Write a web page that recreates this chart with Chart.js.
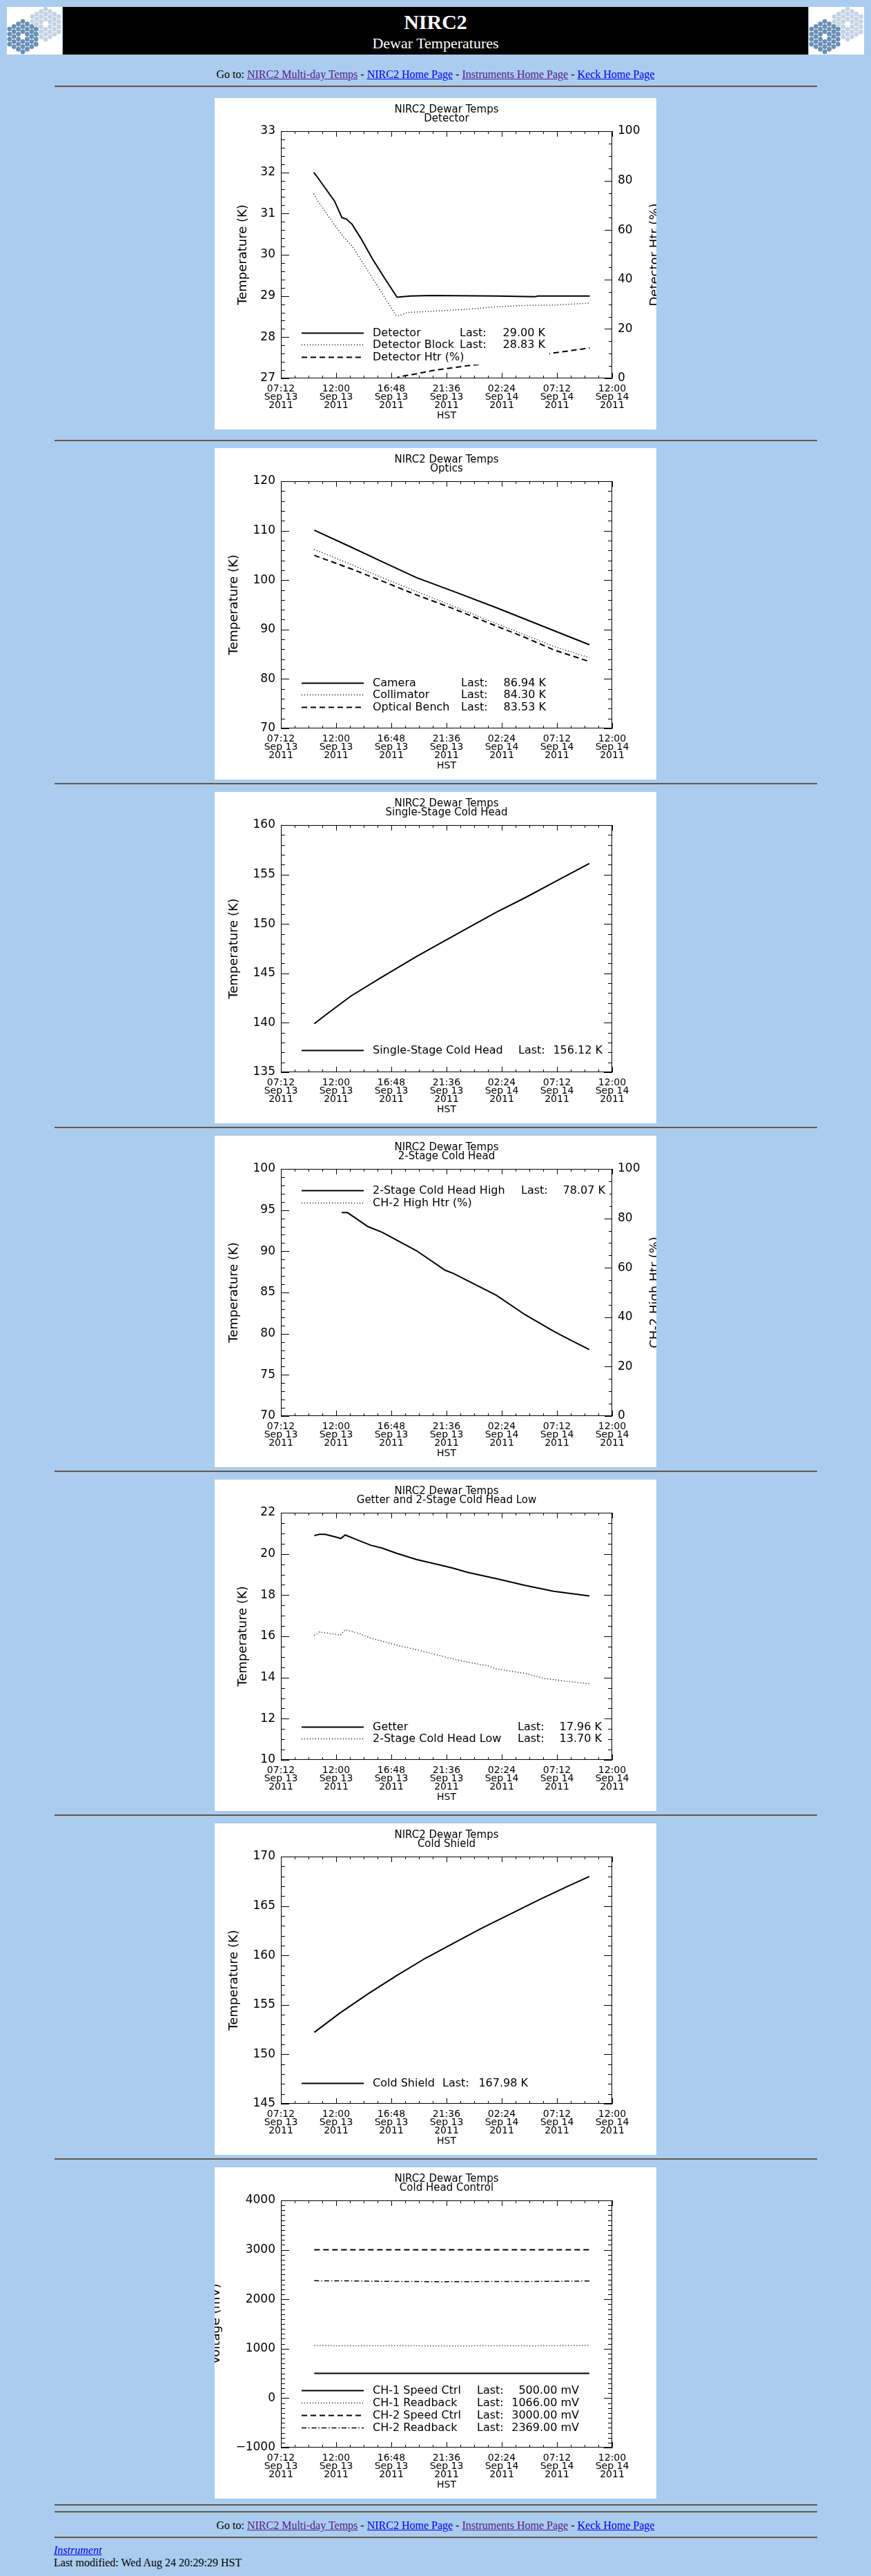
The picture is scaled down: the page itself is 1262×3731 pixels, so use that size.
<!DOCTYPE html>
<html lang="en">
<head>
<meta charset="UTF-8">
<title>NIRC2 Dewar Temperatures</title>
<script src="https://cdn.jsdelivr.net/npm/chart.js"></script>
<style>
  body { margin: 10px; background: #aaccee; font-family: "Liberation Serif", "Times New Roman", serif; font-size: 16px; color: #000; }
  #banner { display: flex; height: 69px; }
  #banner canvas { display: block; }
  #banner .black { background: #000; width: 1080px; margin: 0 1px; position: relative; color: #fff; text-align: center; }
  #banner .t1 { position: absolute; left: 0; right: 0; top: 5px; font-size: 30px; font-weight: bold; line-height: 34px; }
  #banner .t2 { position: absolute; left: 0; right: 0; top: 40px; font-size: 22px; line-height: 26px; }
  .goto { text-align: center; line-height: 20px; }
  a { color: #0000ee; }
  a.v { color: #551a8b; }
  hr { width: 1105px; height: 0; border: 0; border-top: 2px solid #5a5a5a; border-bottom: 1px solid #c4c4c4; margin: 0 auto; }
  .panel { width: 640px; height: 480px; margin: 0 auto; background: #fff; }
  .panel canvas { display: block; }
  .foot { margin-left: 68px; line-height: 18px; }
</style>
</head>
<body>
<div id="banner">
  <canvas class="logo" width="80" height="69"></canvas>
  <div class="black"><div class="t1">NIRC2</div><div class="t2">Dewar Temperatures</div></div>
  <canvas class="logo" width="80" height="69"></canvas>
</div>
<div class="goto" style="margin-top:19px">Go to: <a class="v" href="#">NIRC2 Multi-day Temps</a> - <a href="#">NIRC2 Home Page</a> - <a class="v" href="#">Instruments Home Page</a> - <a href="#">Keck Home Page</a></div>
<hr style="margin-top:6px">
<div class="panel" style="margin-top:15px"><canvas id="c1" width="640" height="480"></canvas></div>
<hr style="margin-top:15px">
<div class="panel" style="margin-top:9px"><canvas id="c2" width="640" height="480"></canvas></div>
<hr style="margin-top:5px">
<div class="panel" style="margin-top:10px"><canvas id="c3" width="640" height="480"></canvas></div>
<hr style="margin-top:5px">
<div class="panel" style="margin-top:10px"><canvas id="c4" width="640" height="480"></canvas></div>
<hr style="margin-top:5px">
<div class="panel" style="margin-top:10px"><canvas id="c5" width="640" height="480"></canvas></div>
<hr style="margin-top:5px">
<div class="panel" style="margin-top:10px"><canvas id="c6" width="640" height="480"></canvas></div>
<hr style="margin-top:5px">
<div class="panel" style="margin-top:10px"><canvas id="c7" width="640" height="480"></canvas></div>
<hr style="margin-top:8px">
<hr style="margin-top:7px">
<div class="goto" style="margin-top:8px">Go to: <a class="v" href="#">NIRC2 Multi-day Temps</a> - <a href="#">NIRC2 Home Page</a> - <a class="v" href="#">Instruments Home Page</a> - <a href="#">Keck Home Page</a></div>
<hr style="margin-top:6px">
<div class="foot" style="margin-top:8px"><a href="#"><i>Instrument</i></a><br>Last modified: Wed Aug 24 20:29:29 HST</div>

<script>
// time axis: hours after 07:12 HST Sep 13 2011
const xTickLabels = [
  ['07:12', 'Sep 13', '2011'], ['12:00', 'Sep 13', '2011'], ['16:48', 'Sep 13', '2011'],
  ['21:36', 'Sep 13', '2011'], ['02:24', 'Sep 14', '2011'], ['07:12', 'Sep 14', '2011'],
  ['12:00', 'Sep 14', '2011']
];
const xTickHours = [0, 4.8, 9.6, 14.4, 19.2, 24, 28.8];

// Detector
const detHrs = [2.85, 3.16, 4.67, 5.31, 5.68, 6.19, 6.95, 7.96, 8.97, 10.1, 11.24, 13.0, 18.82, 22.05, 22.36, 26.85];
const detTemp = [32.0, 31.89, 31.3, 30.9, 30.87, 30.74, 30.4, 29.9, 29.45, 28.97, 29.0, 29.01, 29.0, 28.98, 29.0, 29.0];
const blockHrs = [2.85, 3.16, 4.67, 5.43, 6.19, 7.2, 8.72, 9.98, 10.23, 10.99, 13.26, 16.29, 18.82, 21.35, 23.87, 26.85];
const blockTemp = [31.48, 31.33, 30.72, 30.44, 30.21, 29.77, 29.1, 28.54, 28.52, 28.6, 28.63, 28.68, 28.74, 28.77, 28.78, 28.83];
const htrHrs = [2.85, 10.1, 10.23, 11.75, 13.26, 16.04, 18.82, 21.35, 23.49, 25.14, 26.85];
const htrPct = [0, 0, 0.6, 1.8, 3.2, 5.0, 6.5, 8.0, 10.1, 11.2, 12.3];
const detTicks = [27, 28, 29, 30, 31, 32, 33];
const detTickLabels = ['27', '28', '29', '30', '31', '32', '33'];

const pctTicks = [0, 20, 40, 60, 80, 100];
const pctTickLabels = ['0', '20', '40', '60', '80', '100'];

// Optics
const optHrs = [2.9, 6.08, 8.81, 11.79, 15.02, 18.74, 21.23, 23.71, 26.81];
const cameraTemp = [110.1, 106.7, 103.7, 100.5, 97.7, 94.4, 92.1, 89.8, 86.94];
const collimatorTemp = [106.2, 103.2, 100.5, 97.7, 94.7, 91.2, 88.9, 86.6, 84.30];
const benchTemp = [105.0, 102.3, 99.8, 97.0, 94.2, 90.7, 88.4, 85.9, 83.53];
const optTicks = [70, 80, 90, 100, 110, 120];
const optTickLabels = ['70', '80', '90', '100', '110', '120'];

// Single-stage cold head
const ssHrs = [2.9, 3.85, 6.08, 8.81, 11.79, 15.02, 18.74, 21.23, 23.71, 26.81];
const ssTemp = [139.9, 140.76, 142.7, 144.65, 146.7, 148.8, 151.2, 152.65, 154.2, 156.12];
const ssTicks = [135, 140, 145, 150, 155, 160];
const ssTickLabels = ['135', '140', '145', '150', '155', '160'];

// 2-stage cold head
const tsHrs = [5.29, 5.79, 7.57, 8.81, 11.79, 14.28, 15.02, 18.74, 21.23, 23.71, 25.2, 26.81];
const tsTemp = [94.69, 94.69, 93.0, 92.3, 90.07, 87.7, 87.3, 84.65, 82.3, 80.3, 79.2, 78.07];
const ch2HtrHrs = [2.9, 26.81];
const ch2HtrPct = [0, 0];
const tsTicks = [70, 75, 80, 85, 90, 95, 100];
const tsTickLabels = ['70', '75', '80', '85', '90', '95', '100'];

// Getter and 2-stage cold head low
const getHrs = [2.9, 3.35, 3.85, 4.84, 5.21, 5.59, 6.83, 7.82, 8.81, 10.06, 11.79, 13.78, 15.02, 16.26, 18.74, 21.23, 23.71, 25.2, 26.81];
const getterTemp = [20.89, 20.95, 20.95, 20.81, 20.75, 20.92, 20.64, 20.42, 20.28, 20.03, 19.73, 19.47, 19.3, 19.1, 18.8, 18.47, 18.19, 18.08, 17.96];
const lowHrs = [2.9, 3.35, 4.84, 5.14, 5.59, 6.83, 7.82, 8.81, 10.06, 11.79, 13.78, 15.02, 16.26, 17.99, 18.74, 21.23, 22.97, 25.2, 26.81];
const lowTemp = [16.05, 16.21, 16.09, 16.05, 16.32, 16.13, 15.91, 15.76, 15.57, 15.35, 15.07, 14.9, 14.74, 14.57, 14.42, 14.2, 13.95, 13.79, 13.70];
const getTicks = [10, 12, 14, 16, 18, 20, 22];
const getTickLabels = ['10', '12', '14', '16', '18', '20', '22'];

// Cold shield
const shieldHrs = [2.9, 5.09, 7.57, 10.06, 12.54, 15.02, 17.5, 19.99, 22.47, 24.96, 26.81];
const shieldTemp = [152.22, 154.14, 156.11, 157.96, 159.7, 161.25, 162.78, 164.21, 165.65, 167.0, 167.98];
const shieldTicks = [145, 150, 155, 160, 165, 170];
const shieldTickLabels = ['145', '150', '155', '160', '165', '170'];

// Cold head control
const ctrlHrs = [2.9, 26.81];
const ch1Speed = [500, 500];
const ch2Speed = [3000, 3000];
const rbHrs = [2.9, 6, 10, 14, 18, 22, 26.81];
const ch1Readback = [1066, 1058, 1062, 1055, 1060, 1058, 1066];
const ch2Readback = [2375, 2372, 2360, 2355, 2358, 2360, 2369];
const ctrlTicks = [-1000, 0, 1000, 2000, 3000, 4000];
const ctrlTickLabels = ['\u22121000', '0', '1000', '2000', '3000', '4000'];

const FONT = 'DejaVu Sans';
Chart.defaults.font.family = FONT;
Chart.defaults.color = '#000';

function pts(xs, ys) { return xs.map((x, i) => ({ x: x, y: ys[i] })); }

function labeler(values, labels) {
  return v => {
    const i = values.findIndex(t => Math.abs(t - v) < 1e-6);
    return i < 0 ? '' : labels[i];
  };
}

// box with inward ticks, as the IDL plots have
const idlFrame = {
  id: 'idlFrame',
  beforeDatasetsDraw(chart) {
    const { ctx, chartArea: a, scales } = chart;
    ctx.save();
    ctx.strokeStyle = '#000';
    ctx.lineWidth = 1;
    ctx.strokeRect(a.left + 0.5, a.top + 0.5, a.right - a.left - 1, a.bottom - a.top - 1);
    ctx.beginPath();
    scales.x.ticks.forEach(t => {
      const p = Math.round(scales.x.getPixelForValue(t.value)) + 0.5;
      const len = t.label && t.label.length ? 8 : 4;
      ctx.moveTo(p, a.bottom); ctx.lineTo(p, a.bottom - len);
      ctx.moveTo(p, a.top); ctx.lineTo(p, a.top + len);
    });
    const y = scales.y, y1 = scales.y1;
    y.ticks.forEach(t => {
      const p = Math.round(y.getPixelForValue(t.value)) + 0.5;
      const len = t.label ? 12 : 6;
      ctx.moveTo(a.left, p); ctx.lineTo(a.left + len, p);
      if (!y1) { ctx.moveTo(a.right, p); ctx.lineTo(a.right - len, p); }
    });
    if (y1) {
      y1.ticks.forEach(t => {
        const p = Math.round(y1.getPixelForValue(t.value)) + 0.5;
        const len = t.label ? 11 : 5;
        ctx.moveTo(a.right, p); ctx.lineTo(a.right - len, p);
      });
    }
    ctx.stroke();
    ctx.restore();
  }
};

// legend drawn inside the plot, over a blanked box
const idlLegend = {
  id: 'idlLegend',
  afterDatasetsDraw(chart, args, o) {
    const { ctx, chartArea: a } = chart;
    const sets = chart.data.datasets;
    const y0 = a.top + o.top;
    ctx.save();
    ctx.fillStyle = '#fff';
    ctx.fillRect(a.left + 26, y0 - 11, o.valueRight - 20, (sets.length - 1) * o.rowH + 22);
    ctx.font = '16px "' + FONT + '"';
    ctx.textBaseline = 'middle';
    sets.forEach((ds, i) => {
      const y = Math.round(y0 + i * o.rowH) + 0.5;
      ctx.strokeStyle = '#000';
      ctx.lineWidth = ds.borderWidth;
      ctx.setLineDash(ds.borderDash || []);
      ctx.beginPath(); ctx.moveTo(a.left + 30, y); ctx.lineTo(a.left + 120, y); ctx.stroke();
      ctx.setLineDash([]);
      ctx.fillStyle = '#000';
      ctx.textAlign = 'left';
      ctx.fillText(ds.label, a.left + 133, y);
      if (ds.last) {
        ctx.fillText('Last:', a.left + o.lastX, y);
        ctx.textAlign = 'right';
        ctx.fillText(ds.last, a.left + o.valueRight, y);
      }
    });
    ctx.restore();
  }
};

// right-hand axis title, reading upward and cut by the image edge
const sideTitle = {
  id: 'sideTitle',
  afterDraw(chart, args, o) {
    if (!o.text) return;
    const { ctx, chartArea: a } = chart;
    ctx.save();
    ctx.translate(o.x, (a.top + a.bottom) / 2);
    ctx.rotate(-Math.PI / 2);
    ctx.font = '18px "' + FONT + '"';
    ctx.textAlign = 'center';
    ctx.textBaseline = 'middle';
    ctx.fillStyle = '#000';
    ctx.fillText(o.text, 0, 0);
    ctx.restore();
  }
};

const SOLID = { borderWidth: 2, borderDash: [] };
const DOTTED = { borderWidth: 1.5, borderDash: [1, 3] };
const DASHED = { borderWidth: 2, borderDash: [8, 5] };
const DASHDOT = { borderWidth: 1.5, borderDash: [7, 3, 1.5, 3] };

function line(label, last, data, style, axis) {
  return Object.assign({
    label: label, last: last, data: data, yAxisID: axis || 'y',
    borderColor: '#000', pointRadius: 0, tension: 0, fill: false
  }, style);
}

function makeChart(id, sub, datasets, yAxis, y1Axis, legend, rightTitle) {
  const scales = {
    x: {
      type: 'linear', min: 0, max: 28.8,
      afterFit: s => { s.height = 74; },
      grid: { display: false, drawTicks: false },
      border: { display: false },
      ticks: {
        stepSize: 1.2, autoSkip: false, maxRotation: 0, padding: 9,
        font: { size: 14, lineHeight: '12px' },
        callback: labeler(xTickHours, xTickLabels)
      },
      title: { display: true, text: 'HST', font: { size: 14 }, padding: { top: 0, bottom: 11 } }
    },
    y: {
      position: 'left', min: yAxis.min, max: yAxis.max,
      afterFit: s => { s.width = 96; },
      grid: { display: false, drawTicks: false },
      border: { display: false },
      ticks: {
        stepSize: yAxis.step, autoSkip: false, padding: 8,
        font: { size: 17 },
        callback: labeler(yAxis.ticks, yAxis.labels)
      },
      title: { display: true, text: yAxis.title, font: { size: 18 }, padding: { top: yAxis.titlePad, bottom: 0 } }
    }
  };
  if (y1Axis) {
    scales.y1 = {
      position: 'right', min: 0, max: 100,
      afterFit: s => { s.width = 64; },
      grid: { display: false, drawTicks: false },
      border: { display: false },
      ticks: {
        stepSize: 5, autoSkip: false, padding: 8,
        font: { size: 17 },
        callback: labeler(pctTicks, pctTickLabels)
      }
    };
  }
  return new Chart(document.getElementById(id), {
    type: 'line',
    data: { datasets: datasets },
    plugins: [idlFrame, idlLegend, sideTitle],
    options: {
      responsive: false,
      animation: false,
      devicePixelRatio: 1,
      layout: { padding: { left: 0, right: y1Axis ? 0 : 64, top: 0, bottom: 0 } },
      scales: scales,
      plugins: {
        legend: { display: false },
        tooltip: { enabled: false },
        title: {
          display: true, text: ['NIRC2 Dewar Temps', sub], fullSize: false, color: '#000',
          font: { size: 15, weight: 'normal', lineHeight: '13px' },
          padding: { top: 11, bottom: 11 }
        },
        idlLegend: legend,
        sideTitle: rightTitle ? { text: rightTitle, x: 638 } : {}
      }
    }
  });
}

makeChart('c1', 'Detector', [
  line('Detector', '29.00 K', pts(detHrs, detTemp), SOLID),
  line('Detector Block', '28.83 K', pts(blockHrs, blockTemp), DOTTED),
  line('Detector Htr (%)', '', pts(htrHrs, htrPct), DASHED, 'y1')
], { min: 27, max: 33, step: 0.2, ticks: detTicks, labels: detTickLabels, title: 'Temperature (K)', titlePad: 31 },
  true, { top: 291.7, rowH: 17.7, lastX: 259, valueRight: 383 }, 'Detector Htr (%)');

makeChart('c2', 'Optics', [
  line('Camera', '86.94 K', pts(optHrs, cameraTemp), SOLID),
  line('Collimator', '84.30 K', pts(optHrs, collimatorTemp), DOTTED),
  line('Optical Bench', '83.53 K', pts(optHrs, benchTemp), DASHED)
], { min: 70, max: 120, step: 2, ticks: optTicks, labels: optTickLabels, title: 'Temperature (K)', titlePad: 18 },
  false, { top: 291.7, rowH: 17.7, lastX: 261, valueRight: 384 }, null);

makeChart('c3', 'Single-Stage Cold Head', [
  line('Single-Stage Cold Head', '156.12 K', pts(ssHrs, ssTemp), SOLID)
], { min: 135, max: 160, step: 1, ticks: ssTicks, labels: ssTickLabels, title: 'Temperature (K)', titlePad: 18 },
  false, { top: 326, rowH: 17.7, lastX: 344, valueRight: 466 }, null);

makeChart('c4', '2-Stage Cold Head', [
  line('2-Stage Cold Head High', '78.07 K', pts(tsHrs, tsTemp), SOLID),
  line('CH-2 High Htr (%)', '', pts(ch2HtrHrs, ch2HtrPct), DOTTED, 'y1')
], { min: 70, max: 100, step: 1, ticks: tsTicks, labels: tsTickLabels, title: 'Temperature (K)', titlePad: 18 },
  true, { top: 31.3, rowH: 17.7, lastX: 348, valueRight: 470 }, 'CH-2 High Htr (%)');

makeChart('c5', 'Getter and 2-Stage Cold Head Low', [
  line('Getter', '17.96 K', pts(getHrs, getterTemp), SOLID),
  line('2-Stage Cold Head Low', '13.70 K', pts(lowHrs, lowTemp), DOTTED)
], { min: 10, max: 22, step: 0.5, ticks: getTicks, labels: getTickLabels, title: 'Temperature (K)', titlePad: 31 },
  false, { top: 309.7, rowH: 17.7, lastX: 343, valueRight: 465 }, null);

makeChart('c6', 'Cold Shield', [
  line('Cold Shield', '167.98 K', pts(shieldHrs, shieldTemp), SOLID)
], { min: 145, max: 170, step: 1, ticks: shieldTicks, labels: shieldTickLabels, title: 'Temperature (K)', titlePad: 18 },
  false, { top: 328.3, rowH: 17.7, lastX: 234, valueRight: 358 }, null);

makeChart('c7', 'Cold Head Control', [
  line('CH-1 Speed Ctrl', '500.00 mV', pts(ctrlHrs, ch1Speed), SOLID),
  line('CH-1 Readback', '1066.00 mV', pts(rbHrs, ch1Readback), DOTTED),
  line('CH-2 Speed Ctrl', '3000.00 mV', pts(ctrlHrs, ch2Speed), DASHED),
  line('CH-2 Readback', '2369.00 mV', pts(rbHrs, ch2Readback), DASHDOT)
], { min: -1000, max: 4000, step: 100, ticks: ctrlTicks, labels: ctrlTickLabels, title: 'Voltage (mV)', titlePad: -8 },
  false, { top: 275, rowH: 17.9, lastX: 284, valueRight: 432 }, null);

// Keck segment logos in the banner
document.querySelectorAll('canvas.logo').forEach(cv => {
  const ctx = cv.getContext('2d');
  ctx.fillStyle = '#fff';
  ctx.fillRect(0, 0, 80, 69);
  [[56, 25, '#c4d3e3'], [23, 43, '#6a8fb5']].forEach(([cx, cy, col]) => {
    ctx.fillStyle = col;
    for (let q = -3; q <= 3; q++) {
      for (let r = -3; r <= 3; r++) {
        const s = -q - r;
        if (Math.abs(s) > 3 || (q === 0 && r === 0)) continue;
        ctx.beginPath();
        ctx.arc(cx + q * 6.4, cy + (r + q / 2) * 7.3, 3.4, 0, Math.PI * 2);
        ctx.fill();
      }
    }
  });
});
</script>
</body>
</html>
